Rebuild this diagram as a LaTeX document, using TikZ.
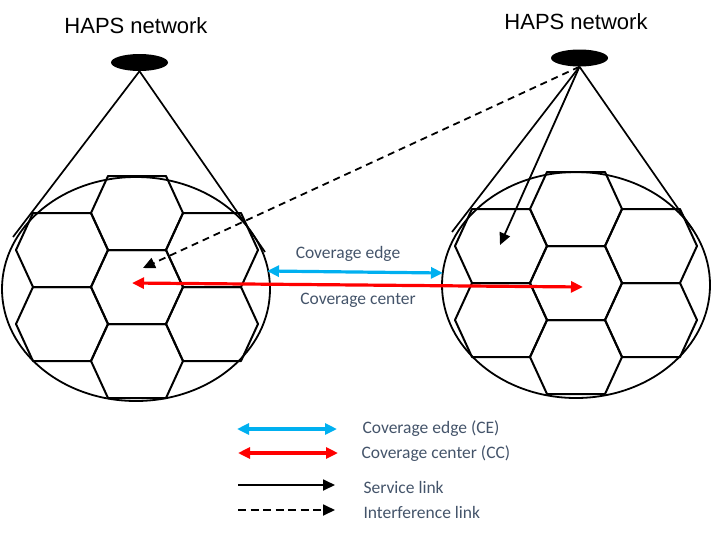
\documentclass[tikz,border=0pt]{standalone}
\usepackage{fontspec}
\setmainfont{Liberation Sans}
\newfontfamily\calibrifont{Carlito}
\usepackage{tikz}
\usetikzlibrary{arrows.meta, positioning, shapes.geometric}
\definecolor{ceblue}{HTML}{00B0F0}
\definecolor{labelgray}{HTML}{44546A}
\tikzset{
    hexcell/.style={line width=2pt, line join=round},
    footprint/.style={line width=1.8pt},
    beam/.style={line width=1.7pt},
    haps/.style={ellipse, fill=black, minimum width=57pt, minimum height=17pt, inner sep=0pt},
    hapslabel/.style={font=\fontsize{22}{26}\selectfont},
    linklabel/.style={font=\calibrifont\fontsize{17.5}{21}\selectfont, text=labelgray},
    cearrow/.style={ceblue, line width=3.2pt, {Triangle[length=12pt, width=11pt]}-{Triangle[length=12pt, width=11pt]}},
    ccarrow/.style={red, line width=3.2pt, {Triangle[length=12pt, width=11pt]}-{Triangle[length=12pt, width=11pt]}},
    servicelink/.style={line width=1.8pt, -{Triangle[length=12pt, width=11pt]}},
    interflink/.style={line width=1.8pt, dash pattern=on 7pt off 5pt, -{Triangle[length=12pt, width=11pt]}}
}

\begin{document}
\begin{tikzpicture}[x=1pt, y=-1pt]
    \useasboundingbox (0,0) rectangle (711,536);

    % left HAPS
    \node[hapslabel] (titleL) at (136,26) {HAPS network};
    \node[haps] (hapsL) at (139.5,62.5) {};
    \coordinate (coneLa) at (13,237);
    \coordinate (coneLb) at (265,252);
    \draw[beam] (hapsL.south) -- (coneLa);
    \draw[beam] (hapsL.south) -- (coneLb);
    \draw[footprint] (136,289) ellipse [x radius=134, y radius=112];
    \begin{scope}[shift={(137,287)}]
        \foreach \dx/\dy in {0/0, 0/-74, 0/74, -75/-37, -75/37, 75/-37, 75/37}
            \draw[hexcell, shift={(\dx,\dy)}] (-29,-37) -- (29,-37) -- (46,0) -- (29,37) -- (-29,37) -- (-46,0) -- cycle;
    \end{scope}

    % right HAPS
    \node[hapslabel] (titleR) at (576,22) {HAPS network};
    \node[haps] (hapsR) at (579.5,58) {};
    \coordinate (coneRa) at (452,232);
    \coordinate (coneRb) at (693,230);
    \draw[beam] (hapsR.south) -- (coneRa);
    \draw[beam] (hapsR.south) -- (coneRb);
    \draw[footprint] (576,285) ellipse [x radius=134, y radius=113];
    \begin{scope}[shift={(576,283)}]
        \foreach \dx/\dy in {0/0, 0/-74, 0/74, -75/-37, -75/37, 75/-37, 75/37}
            \draw[hexcell, shift={(\dx,\dy)}] (-29,-37) -- (29,-37) -- (46,0) -- (29,37) -- (-29,37) -- (-46,0) -- cycle;
    \end{scope}

    % links
    \coordinate (userR) at (500,245);
    \coordinate (userL) at (143,268);
    \draw[servicelink] (hapsR.south) -- (userR);
    \draw[interflink] (hapsR.south) -- (userL);

    \coordinate (ceL) at (267,271);
    \coordinate (ceR) at (443,273);
    \coordinate (ccL) at (132,283);
    \coordinate (ccR) at (583,287);
    \draw[cearrow] (ceL) -- (ceR);
    \draw[ccarrow] (ccL) -- (ccR);
    \node[linklabel] (celabel) at (348,254) {Coverage edge};
    \node[linklabel] (cclabel) at (358,300) {Coverage center};

    % legend
    \coordinate (legA1) at (237,429); \coordinate (legA2) at (337,429);
    \coordinate (legB1) at (238,453); \coordinate (legB2) at (338,453);
    \coordinate (legC1) at (238,485); \coordinate (legC2) at (335,485);
    \coordinate (legD1) at (238,510); \coordinate (legD2) at (335,510);
    \draw[cearrow] (legA1) -- (legA2);
    \draw[ccarrow] (legB1) -- (legB2);
    \draw[servicelink] (legC1) -- (legC2);
    \draw[line width=1.8pt, dash pattern=on 8pt off 4.5pt, -{Triangle[length=12pt, width=11pt]}] (legD1) -- (legD2);
    \node[linklabel, anchor=west] (legAtext) at (359,429) {Coverage edge (CE)};
    \node[linklabel, anchor=west] (legBtext) at (358,454) {Coverage center (CC)};
    \node[linklabel, anchor=west] (legCtext) at (360,487) {Service link};
    \node[linklabel, anchor=west] (legDtext) at (360,512) {Interference link};
\end{tikzpicture}
\end{document}
